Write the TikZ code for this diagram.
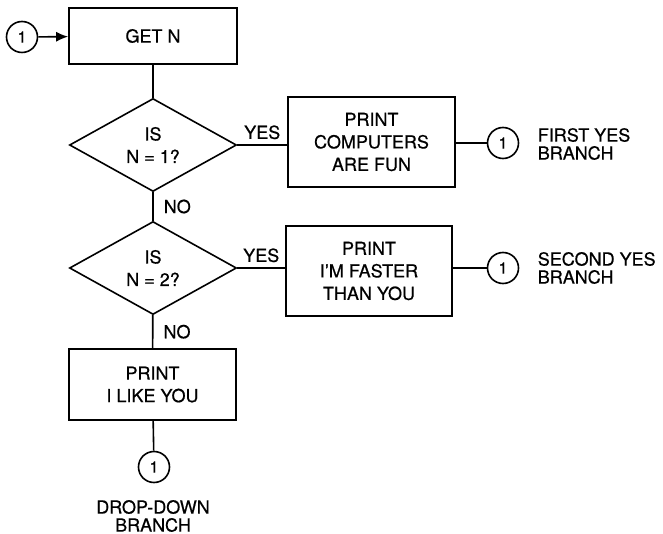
\documentclass[tikz,border=0pt]{standalone}
\usepackage{fontspec}
\setmainfont{TeX Gyre Heros}[FakeBold=0.6]
\usetikzlibrary{arrows.meta,positioning,shapes.geometric}

\begin{document}
\begin{tikzpicture}[
  x=1pt, y=-1pt,
  line width=1.6pt,
  every node/.style={font=\fontsize{18}{22.5}\selectfont, align=center, inner sep=2pt},
  proc/.style={draw, rectangle},
  decision/.style={draw, diamond, inner sep=0pt, minimum width=167pt, minimum height=93pt},
  conn/.style={draw, circle, minimum size=31pt, inner sep=0pt, font=\fontsize{16}{18}\selectfont},
  note/.style={font=\fontsize{18}{18}\selectfont, align=left, anchor=west},
  yeslbl/.style={above=3pt},
  nolbl/.style={right=8pt}
]
\useasboundingbox (0,0) rectangle (663,534);

\node[conn] (start) at (22,37) {1};
\node[proc, minimum width=168pt, minimum height=56pt] (getn) at (153,36) {GET N};
\node[decision] (isone) at (153,145) {IS\\N = 1?};
\node[proc, minimum width=167pt, minimum height=90pt] (fun) at (371.5,142) {PRINT\\COMPUTERS\\ARE FUN};
\node[conn] (firstend) at (503,143) {1};
\node[note] (firsttxt) at (535,144) {FIRST YES\\BRANCH};
\node[decision] (istwo) at (153,268) {IS\\N = 2?};
\node[proc, minimum width=166pt, minimum height=90pt] (faster) at (369,271) {PRINT\\I'M FASTER\\THAN YOU};
\node[conn] (secondend) at (503,268) {1};
\node[note] (secondtxt) at (535,268) {SECOND YES\\BRANCH};
\node[proc, minimum width=167pt, minimum height=71pt] (likeyou) at (152.5,384.5) {PRINT\\I LIKE YOU};
\node[conn] (dropend) at (154,467) {1};
\node[font=\fontsize{18}{18}\selectfont] (droptxt) at (153,516) {DROP-DOWN\\BRANCH};

% connectors
\draw[-{Latex[length=12pt,width=10pt]}] (start) -- (getn);
\draw (getn) -- (isone);
\draw (isone.east) -- node[yeslbl] {YES} (fun.west |- isone.east);
\draw (fun.east |- firstend) -- (firstend);
\draw (isone) -- node[nolbl] {NO} (istwo);
\draw (istwo.east) -- node[yeslbl] {YES} (faster.west |- istwo.east);
\draw (faster.east |- secondend) -- (secondend);
\draw (istwo) -- node[nolbl] {NO} (likeyou);
\draw (likeyou) -- (dropend);
\end{tikzpicture}
\end{document}
